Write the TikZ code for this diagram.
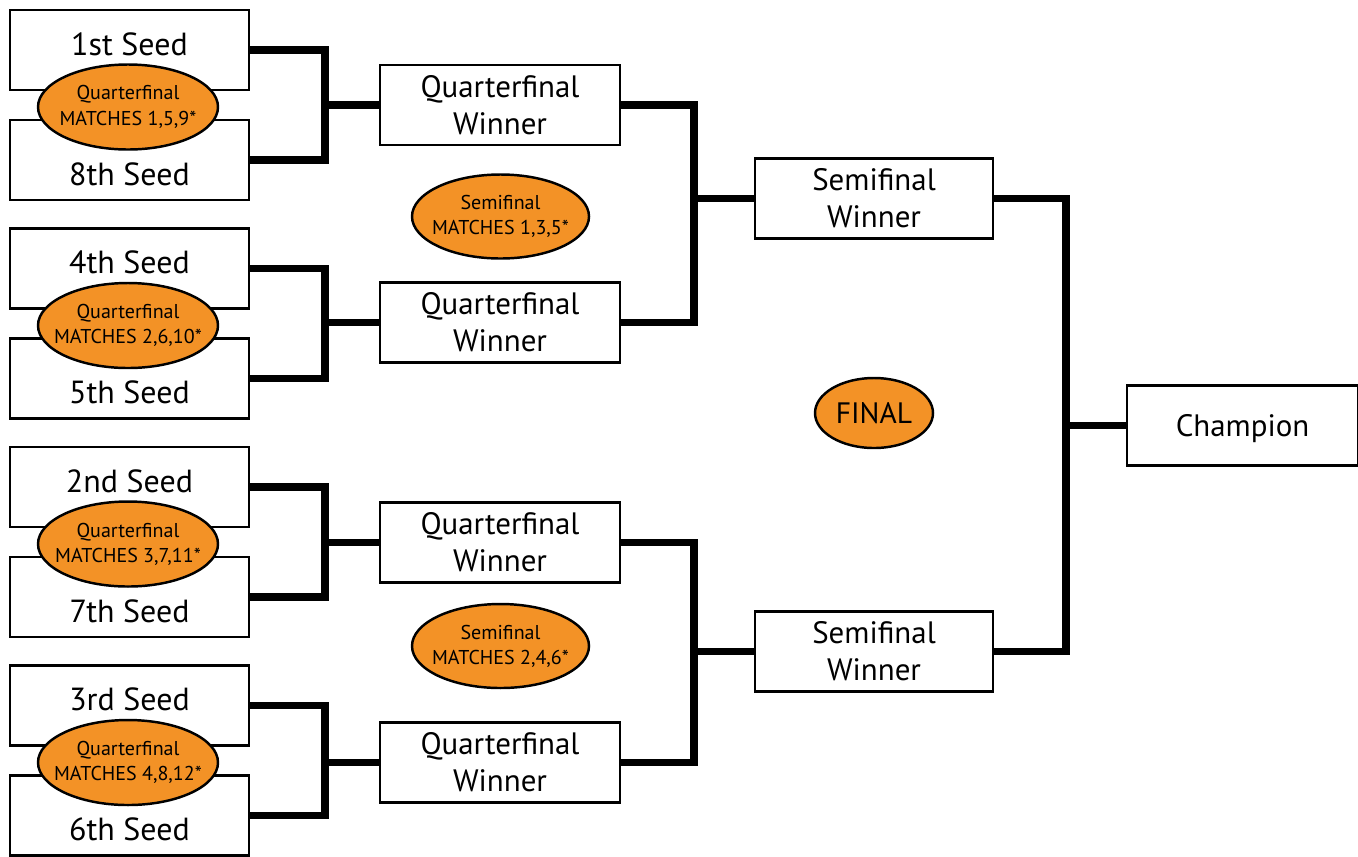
\documentclass[tikz,border=0pt]{standalone}
\usepackage{fontspec}
\setmainfont{PT Sans}
\usetikzlibrary{shapes.geometric}
\definecolor{matchorange}{RGB}{243,146,38}

\begin{document}
\begin{tikzpicture}[
    slot/.style={rectangle,draw,fill=white,line width=0.7pt,inner sep=0pt,font=\fontsize{8.8}{10.5}\selectfont},
    topseed/.style={slot,font=\fontsize{9.1}{10.5}\selectfont,minimum width=2.39cm,text height=0.45cm,text depth=0.35cm},
    botseed/.style={slot,font=\fontsize{9.1}{10.5}\selectfont,minimum width=2.39cm,text height=0.65cm,text depth=0.15cm},
    winner/.style={slot,minimum width=2.4cm,minimum height=0.8cm,align=center},
    match/.style={ellipse,draw,fill=matchorange,line width=0.7pt,inner sep=0pt,minimum width=1.8cm,minimum height=0.85cm},
    matchtext/.style={align=center,font=\fontsize{5.7}{7.2}\selectfont},
    bracket/.style={line width=2.2pt}
  ]
  \useasboundingbox (0,0) rectangle (13.58,8.56);

  % Seeds
  \node[topseed] (s1) at (1.295,8.06) {1st Seed};
  \node[botseed] (s8) at (1.295,6.96) {8th Seed};
  \node[topseed] (s4) at (1.295,5.875) {4th Seed};
  \node[botseed] (s5) at (1.295,4.775) {5th Seed};
  \node[topseed] (s2) at (1.295,3.69) {2nd Seed};
  \node[botseed] (s7) at (1.295,2.59) {7th Seed};
  \node[topseed] (s3) at (1.295,1.505) {3rd Seed};
  \node[botseed] (s6) at (1.295,0.405) {6th Seed};

  % Quarterfinal matches
  \node[match,label={[matchtext]center:{Quarterfinal\\MATCHES 1,5,9*}}] (qm1) at (1.28,7.49) {};
  \node[match,label={[matchtext]center:{Quarterfinal\\MATCHES 2,6,10*}}] (qm2) at (1.28,5.305) {};
  \node[match,label={[matchtext]center:{Quarterfinal\\MATCHES 3,7,11*}}] (qm3) at (1.28,3.12) {};
  \node[match,label={[matchtext]center:{Quarterfinal\\MATCHES 4,8,12*}}] (qm4) at (1.28,0.935) {};

  % Quarterfinal winners
  \node[winner] (qfa) at (5.0,7.51) {Quarterfinal\\Winner};
  \node[winner] (qfb) at (5.0,5.335) {Quarterfinal\\Winner};
  \node[winner] (qfc) at (5.0,3.135) {Quarterfinal\\Winner};
  \node[winner] (qfd) at (5.0,0.935) {Quarterfinal\\Winner};

  % Semifinal matches
  \node[match,minimum width=1.77cm,minimum height=0.84cm,label={[matchtext]center:{Semifinal\\MATCHES 1,3,5*}}] (sm1) at (5.005,6.395) {};
  \node[match,minimum width=1.77cm,minimum height=0.84cm,label={[matchtext]center:{Semifinal\\MATCHES 2,4,6*}}] (sm2) at (5.005,2.10) {};

  % Semifinal winners
  \node[winner,minimum width=2.38cm] (sfa) at (8.74,6.575) {Semifinal\\Winner};
  \node[winner,minimum width=2.38cm] (sfb) at (8.74,2.045) {Semifinal\\Winner};

  % Final
  \node[match,minimum width=1.18cm,minimum height=0.70cm,label={[matchtext,font=\fontsize{8.4}{9}\selectfont]center:FINAL}] (fin) at (8.74,4.43) {};
  \node[slot,minimum width=2.31cm,text height=0.51cm,text depth=0.29cm] (champ) at (12.425,4.305) {Champion};

  % Quarterfinal brackets
  \coordinate (ja) at (3.25,0 |- qfa);
  \coordinate (jb) at (3.25,0 |- qfb);
  \coordinate (jc) at (3.25,0 |- qfc);
  \coordinate (jd) at (3.25,0 |- qfd);

  \draw[bracket] (s1.east) -| (ja);
  \draw[bracket] (s8.east) -| (ja);
  \draw[bracket] (ja) -- (qfa);
  \draw[bracket] (s4.east) -| (jb);
  \draw[bracket] (s5.east) -| (jb);
  \draw[bracket] (jb) -- (qfb);
  \draw[bracket] (s2.east) -| (jc);
  \draw[bracket] (s7.east) -| (jc);
  \draw[bracket] (jc) -- (qfc);
  \draw[bracket] (s3.east) -| (jd);
  \draw[bracket] (s6.east) -| (jd);
  \draw[bracket] (jd) -- (qfd);

  % Semifinal brackets
  \coordinate (je) at (6.94,0 |- sfa);
  \coordinate (jf) at (6.94,0 |- sfb);

  \draw[bracket] (qfa.east) -| (je);
  \draw[bracket] (qfb.east) -| (je);
  \draw[bracket] (je) -- (sfa);
  \draw[bracket] (qfc.east) -| (jf);
  \draw[bracket] (qfd.east) -| (jf);
  \draw[bracket] (jf) -- (sfb);

  % Final bracket
  \coordinate (jg) at (10.66,0 |- champ);

  \draw[bracket] (sfa.east) -| (jg);
  \draw[bracket] (sfb.east) -| (jg);
  \draw[bracket] (jg) -- (champ);
\end{tikzpicture}
\end{document}
